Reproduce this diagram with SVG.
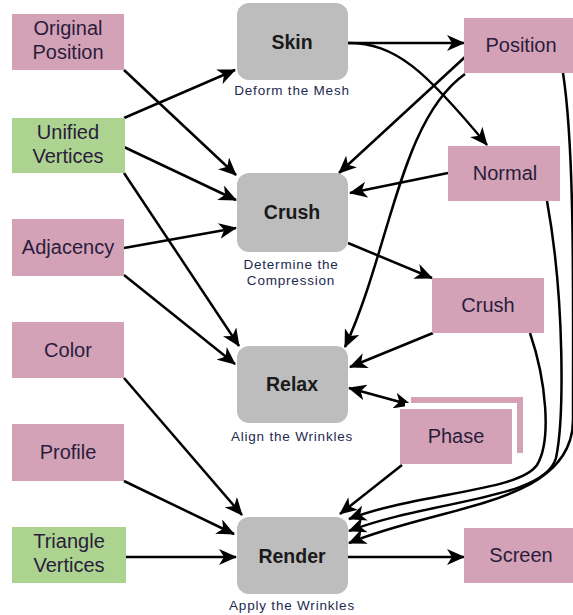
<svg xmlns="http://www.w3.org/2000/svg" width="573" height="615" viewBox="0 0 573 615">
<defs>
<style>
.pink{fill:#d4a2b6}
.green{fill:#acd38f}
.gray{fill:#bdbdbd}
.lbl{font-family:"Liberation Sans",Arial,sans-serif;font-size:20px;fill:#2a1c3c;text-anchor:middle}
.blbl{font-family:"Liberation Sans",Arial,sans-serif;font-size:19.5px;font-weight:bold;fill:#1a1a1a;text-anchor:middle}
.sub{font-family:"Liberation Sans",Arial,sans-serif;font-size:13.5px;fill:#1c2a50;text-anchor:middle;letter-spacing:0.8px}
.c{fill:none;stroke:#000;stroke-width:2.5}
.a{marker-end:url(#ah)}
</style>
<marker id="ah" markerUnits="userSpaceOnUse" markerWidth="18" markerHeight="16" refX="17" refY="8" orient="auto-start-reverse" viewBox="0 0 18 16">
<path d="M0,0 L18,8 L0,16 L5,8 z" fill="#000"/>
</marker>
</defs>
<rect width="573" height="615" fill="#fff"/>

<g id="connectors">
<path class="c a" d="M124,118 L235,70"/>
<path class="c a" d="M124,70 L236,175"/>
<path class="c a" d="M124,147 L236,200"/>
<path class="c a" d="M124,173 L239,346"/>
<path class="c a" d="M124,248 L236,228"/>
<path class="c a" d="M124,275 L235,364"/>
<path class="c a" d="M124,378 L242,515"/>
<path class="c a" d="M124,481 L234,534"/>
<path class="c a" d="M126,557 L236,557"/>
<path class="c a" d="M348,43 L464,43"/>
<path class="c a" d="M348,43 C395,43 425,70 487,145"/>
<path class="c a" d="M465,57 L339,173"/>
<path class="c a" d="M465,74 C400,120 390,250 345,347"/>
<path class="c a" d="M448,173 L350,193"/>
<path class="c a" d="M348,243 L432,278"/>
<path class="c a" d="M433,333 L350,367"/>
<path class="c a" d="M349,388 L411,405" marker-start="url(#ah)"/>
<path class="c a" d="M402,465 L340,514"/>
<path class="c a" d="M348,557 L464,557"/>
<path class="c a" d="M530,333 C546,380 552,440 537,465 C518,492 420,492 349,519"/>
<path class="c a" d="M547,201 C565,300 564,420 556,458 C544,500 430,500 349,531"/>
<path class="c a" d="M563,73 C575,150 573,300 573,420 C573,505 440,505 349,543"/>
</g>

<g id="original-position"><rect class="pink" x="12" y="14" width="112" height="56"/><text class="lbl" x="68" y="35">Original</text><text class="lbl" x="68" y="59">Position</text></g>
<g id="unified-vertices"><rect class="green" x="12" y="118" width="113" height="55"/><text class="lbl" x="68" y="139">Unified</text><text class="lbl" x="68" y="163">Vertices</text></g>
<g id="adjacency"><rect class="pink" x="12" y="219" width="112" height="57"/><text class="lbl" x="68" y="254">Adjacency</text></g>
<g id="color"><rect class="pink" x="12" y="322" width="112" height="56"/><text class="lbl" x="68" y="357">Color</text></g>
<g id="profile"><rect class="pink" x="12" y="424" width="112" height="57"/><text class="lbl" x="68" y="459">Profile</text></g>
<g id="triangle-vertices"><rect class="green" x="12" y="527" width="114" height="56"/><text class="lbl" x="69" y="548">Triangle</text><text class="lbl" x="69" y="572">Vertices</text></g>

<g id="skin"><rect class="gray" x="237" y="3" width="111" height="77" rx="12"/><text class="blbl" x="292" y="49">Skin</text><text class="sub" x="292" y="95">Deform the Mesh</text></g>
<g id="crush"><rect class="gray" x="237" y="173" width="111" height="79" rx="12"/><text class="blbl" x="292" y="219">Crush</text><text class="sub" x="291" y="269">Determine the</text><text class="sub" x="291" y="285">Compression</text></g>
<g id="relax"><rect class="gray" x="237" y="346" width="111" height="77" rx="12"/><text class="blbl" x="292" y="391">Relax</text><text class="sub" x="292" y="441">Align the Wrinkles</text></g>
<g id="render"><rect class="gray" x="237" y="517" width="111" height="77" rx="12"/><text class="blbl" x="292" y="563">Render</text><text class="sub" x="292" y="610">Apply the Wrinkles</text></g>

<g id="position"><rect class="pink" x="464" y="18" width="114" height="55"/><text class="lbl" x="521" y="52">Position</text></g>
<g id="normal"><rect class="pink" x="448" y="146" width="112" height="55"/><text class="lbl" x="505" y="180">Normal</text></g>
<g id="crush-out"><rect class="pink" x="432" y="278" width="112" height="55"/><text class="lbl" x="488" y="312">Crush</text></g>
<g id="phase"><rect class="pink" x="411" y="397" width="112" height="56"/><rect fill="#fff" x="405" y="403" width="112" height="55"/><rect class="pink" x="400" y="409" width="112" height="55"/><text class="lbl" x="456" y="443">Phase</text></g>
<g id="screen"><rect class="pink" x="464" y="528" width="114" height="55"/><text class="lbl" x="521" y="562">Screen</text></g>
</svg>
